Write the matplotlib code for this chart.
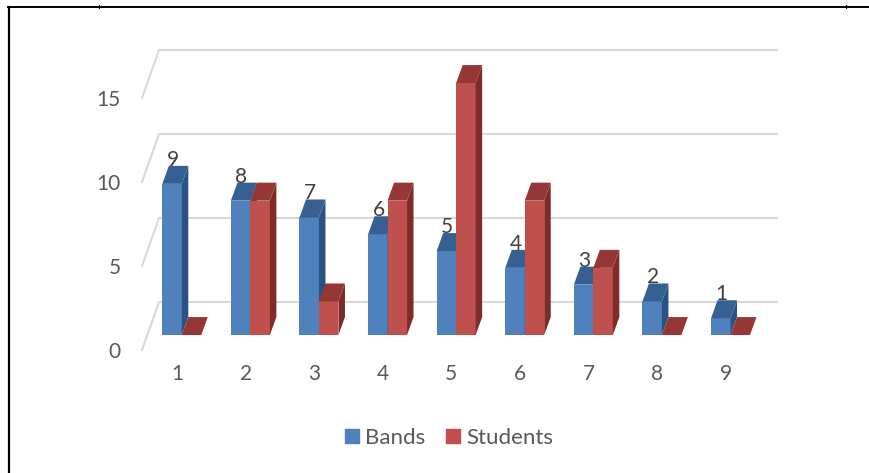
import matplotlib.pyplot as plt
from matplotlib.lines import Line2D
from matplotlib.patches import Patch

plt.rcParams['font.family'] = ['Lato', 'DejaVu Sans']

categories = [1, 2, 3, 4, 5, 6, 7, 8, 9]
bands = [9, 8, 7, 6, 5, 4, 3, 2, 1]
students = [0, 8, 2, 8, 15, 8, 4, 0, 0]
y_ticks = [0, 5, 10, 15]

# colours: front, top, side
blue = ('#4F81BD', '#376092', '#2A5283')
red = ('#C0504D', '#953735', '#7F2B28')
grid_color = '#D9D9D9'
text_color = '#595959'

# 3d look, all in data units
wall_dx, wall_dy = 0.248, 2.86    # depth of the floor
floor_dx, floor_dy = 0.07, 0.89   # where the bars stand on the floor
bar_dx, bar_dy = 0.095, 1.07      # depth of one bar
bar_w = 0.284


def bar3d(ax, x, value, colors):
    x = x + floor_dx
    base = floor_dy
    top = base + value
    ax.bar(x, value, bar_w, bottom=base, align='edge', color=colors[0], zorder=3)
    # side face, then top face
    ax.fill([x + bar_w, x + bar_w + bar_dx, x + bar_w + bar_dx, x + bar_w],
            [base, base + bar_dy, top + bar_dy, top],
            color=colors[2], lw=0, zorder=3)
    ax.fill([x, x + bar_w, x + bar_w + bar_dx, x + bar_dx],
            [top, top, top + bar_dy, top + bar_dy],
            color=colors[1], lw=0, zorder=3)


fig = plt.figure(figsize=(8.69, 4.73), dpi=100)

# frame around the chart
fig.add_artist(Line2D([9 / 869, 9 / 869], [0, 1 - 7 / 473], color='black', lw=1.6))
fig.add_artist(Line2D([8 / 869, 1], [1 - 7 / 473, 1 - 7 / 473], color='black', lw=1.4))
for px in [99, 846]:
    fig.add_artist(Line2D([px / 869, px / 869], [1 - 8 / 473, 1 - 5 / 473], color='black', lw=0.8))

ax = fig.add_axes([142 / 869, (473 - 350) / 473, 618 / 869, 302.4 / 473])
ax.set_xlim(0.49, 9.5)
ax.set_ylim(0, 18)
ax.axis('off')

# walls and floor lines
x0, x1 = ax.get_xlim()
for v in y_ticks:
    ax.plot([x0, x0 + wall_dx, x1 + wall_dx], [v, v + wall_dy, v + wall_dy],
            color=grid_color, lw=1.5, clip_on=False, zorder=1)
    ax.text(x0 - 0.31, v - 0.1, str(v), color=text_color, fontsize=15,
            ha='right', va='center')

for c, b, s in zip(categories, bands, students):
    bar3d(ax, c - bar_w, b, blue)
    bar3d(ax, c, s, red)
    ax.text(c, -1.45, str(c), color=text_color, fontsize=15, ha='center', va='center',
            clip_on=False)
    # value label sits on the blue bar
    ax.text(c - 0.06, b + floor_dy + 1.43, str(b), color='#404040', fontsize=15,
            ha='center', va='center', zorder=4)

handles = [Patch(color=blue[0], label='Bands'), Patch(color=red[0], label='Students')]
fig.legend(handles=handles, loc='center', bbox_to_anchor=(449 / 869, 1 - 438 / 473),
           ncol=2, frameon=False, fontsize=16, labelcolor=text_color,
           handlelength=0.63, handleheight=0.63, handletextpad=0.3, columnspacing=0.9)

plt.savefig('out.png', dpi=100)
